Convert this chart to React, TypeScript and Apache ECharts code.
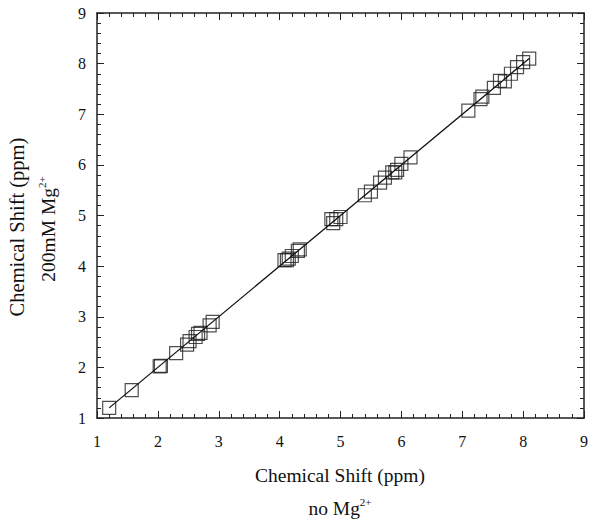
import React, { useEffect, useRef } from "react";
import * as echarts from "echarts";

const noMg: number[] = [1.2, 1.57, 2.03, 2.05, 2.3, 2.48, 2.52, 2.62, 2.66, 2.7, 2.85, 2.9, 4.08, 4.12, 4.15, 4.2, 4.3, 4.33, 4.85, 4.88, 4.93, 5.0, 5.4, 5.5, 5.65, 5.73, 5.85, 5.9, 5.93, 6.0, 6.15, 7.1, 7.3, 7.33, 7.52, 7.62, 7.7, 7.8, 7.9, 8.0, 8.1];
const withMg: number[] = [1.2, 1.55, 2.02, 2.03, 2.28, 2.45, 2.52, 2.6, 2.66, 2.68, 2.83, 2.9, 4.12, 4.12, 4.15, 4.2, 4.3, 4.33, 4.93, 4.85, 4.93, 4.97, 5.4, 5.47, 5.65, 5.75, 5.85, 5.85, 5.9, 6.02, 6.15, 7.07, 7.3, 7.35, 7.52, 7.66, 7.65, 7.8, 7.93, 8.03, 8.1];
const fitLine: number[][] = [[1.2, 1.2], [8.1, 8.1]];
const axisMin = 1;
const axisMax = 9;

export default function App() {
  const ref = useRef<HTMLDivElement>(null);
  useEffect(() => {
    if (!ref.current) return;
    const chart = echarts.init(ref.current, null, { renderer: "svg" });
    const font = "Liberation Serif";
    const axisCommon = {
      type: "value" as const,
      min: axisMin,
      max: axisMax,
      interval: 1,
      axisLine: { show: true, lineStyle: { color: "#222", width: 1.5 } },
      axisTick: { show: true, inside: true, length: 7, lineStyle: { color: "#222", width: 1 } },
      minorTick: { show: true, splitNumber: 5, length: 4, lineStyle: { color: "#222", width: 1 } },
      splitLine: { show: false },
    };
    chart.setOption({
      animation: false,
      backgroundColor: "#fff",
      grid: { left: 97, right: 16, top: 13, bottom: 105 },
      xAxis: [
        { ...axisCommon, position: "bottom", axisLabel: { fontFamily: font, fontSize: 16, color: "#111", margin: 15 } },
        { ...axisCommon, position: "top", axisLabel: { show: false } },
      ],
      yAxis: [
        { ...axisCommon, position: "left", axisLabel: { fontFamily: font, fontSize: 16, color: "#111", margin: 11 } },
        { ...axisCommon, position: "right", axisLabel: { show: false } },
      ],
      series: [
        {
          type: "line",
          data: fitLine,
          symbol: "none",
          lineStyle: { color: "#111", width: 1.3 },
          xAxisIndex: 0,
          yAxisIndex: 0,
        },
        {
          type: "scatter",
          data: noMg.map((v, i) => [v, withMg[i]]),
          symbol: "rect",
          symbolSize: 13,
          itemStyle: { color: "rgba(255,255,255,0)", borderColor: "#222", borderWidth: 1.2 },
          xAxisIndex: 0,
          yAxisIndex: 0,
        },
      ],
      graphic: [
        {
          type: "text",
          x: 340,
          y: 475,
          style: { text: "Chemical Shift (ppm)", font: `19.5px '${font}'`, fill: "#111", align: "center", verticalAlign: "middle" },
        },
        {
          type: "text",
          x: 340,
          y: 508,
          style: {
            text: "{a|no Mg}{s|2+}",
            align: "center",
            verticalAlign: "middle",
            rich: {
              a: { fontFamily: font, fontSize: 19.5, fill: "#111" },
              s: { fontFamily: font, fontSize: 11, fill: "#111", padding: [0, 0, 13, 0] },
            },
          },
        },
        {
          type: "text",
          x: 17,
          y: 227,
          rotation: Math.PI / 2,
          style: { text: "Chemical Shift (ppm)", font: `20.5px '${font}'`, fill: "#111", align: "center", verticalAlign: "middle" },
        },
        {
          type: "text",
          x: 48,
          y: 229,
          rotation: Math.PI / 2,
          style: {
            text: "{a|200mM Mg}{s|2+}",
            align: "center",
            verticalAlign: "middle",
            rich: {
              a: { fontFamily: font, fontSize: 19.5, fill: "#111" },
              s: { fontFamily: font, fontSize: 11, fill: "#111", padding: [0, 0, 13, 0] },
            },
          },
        },
      ],
    });
    return () => chart.dispose();
  }, []);
  return <div ref={ref} style={{ width: 600, height: 523, position: "absolute", left: 0, top: 0 }} />;
}
